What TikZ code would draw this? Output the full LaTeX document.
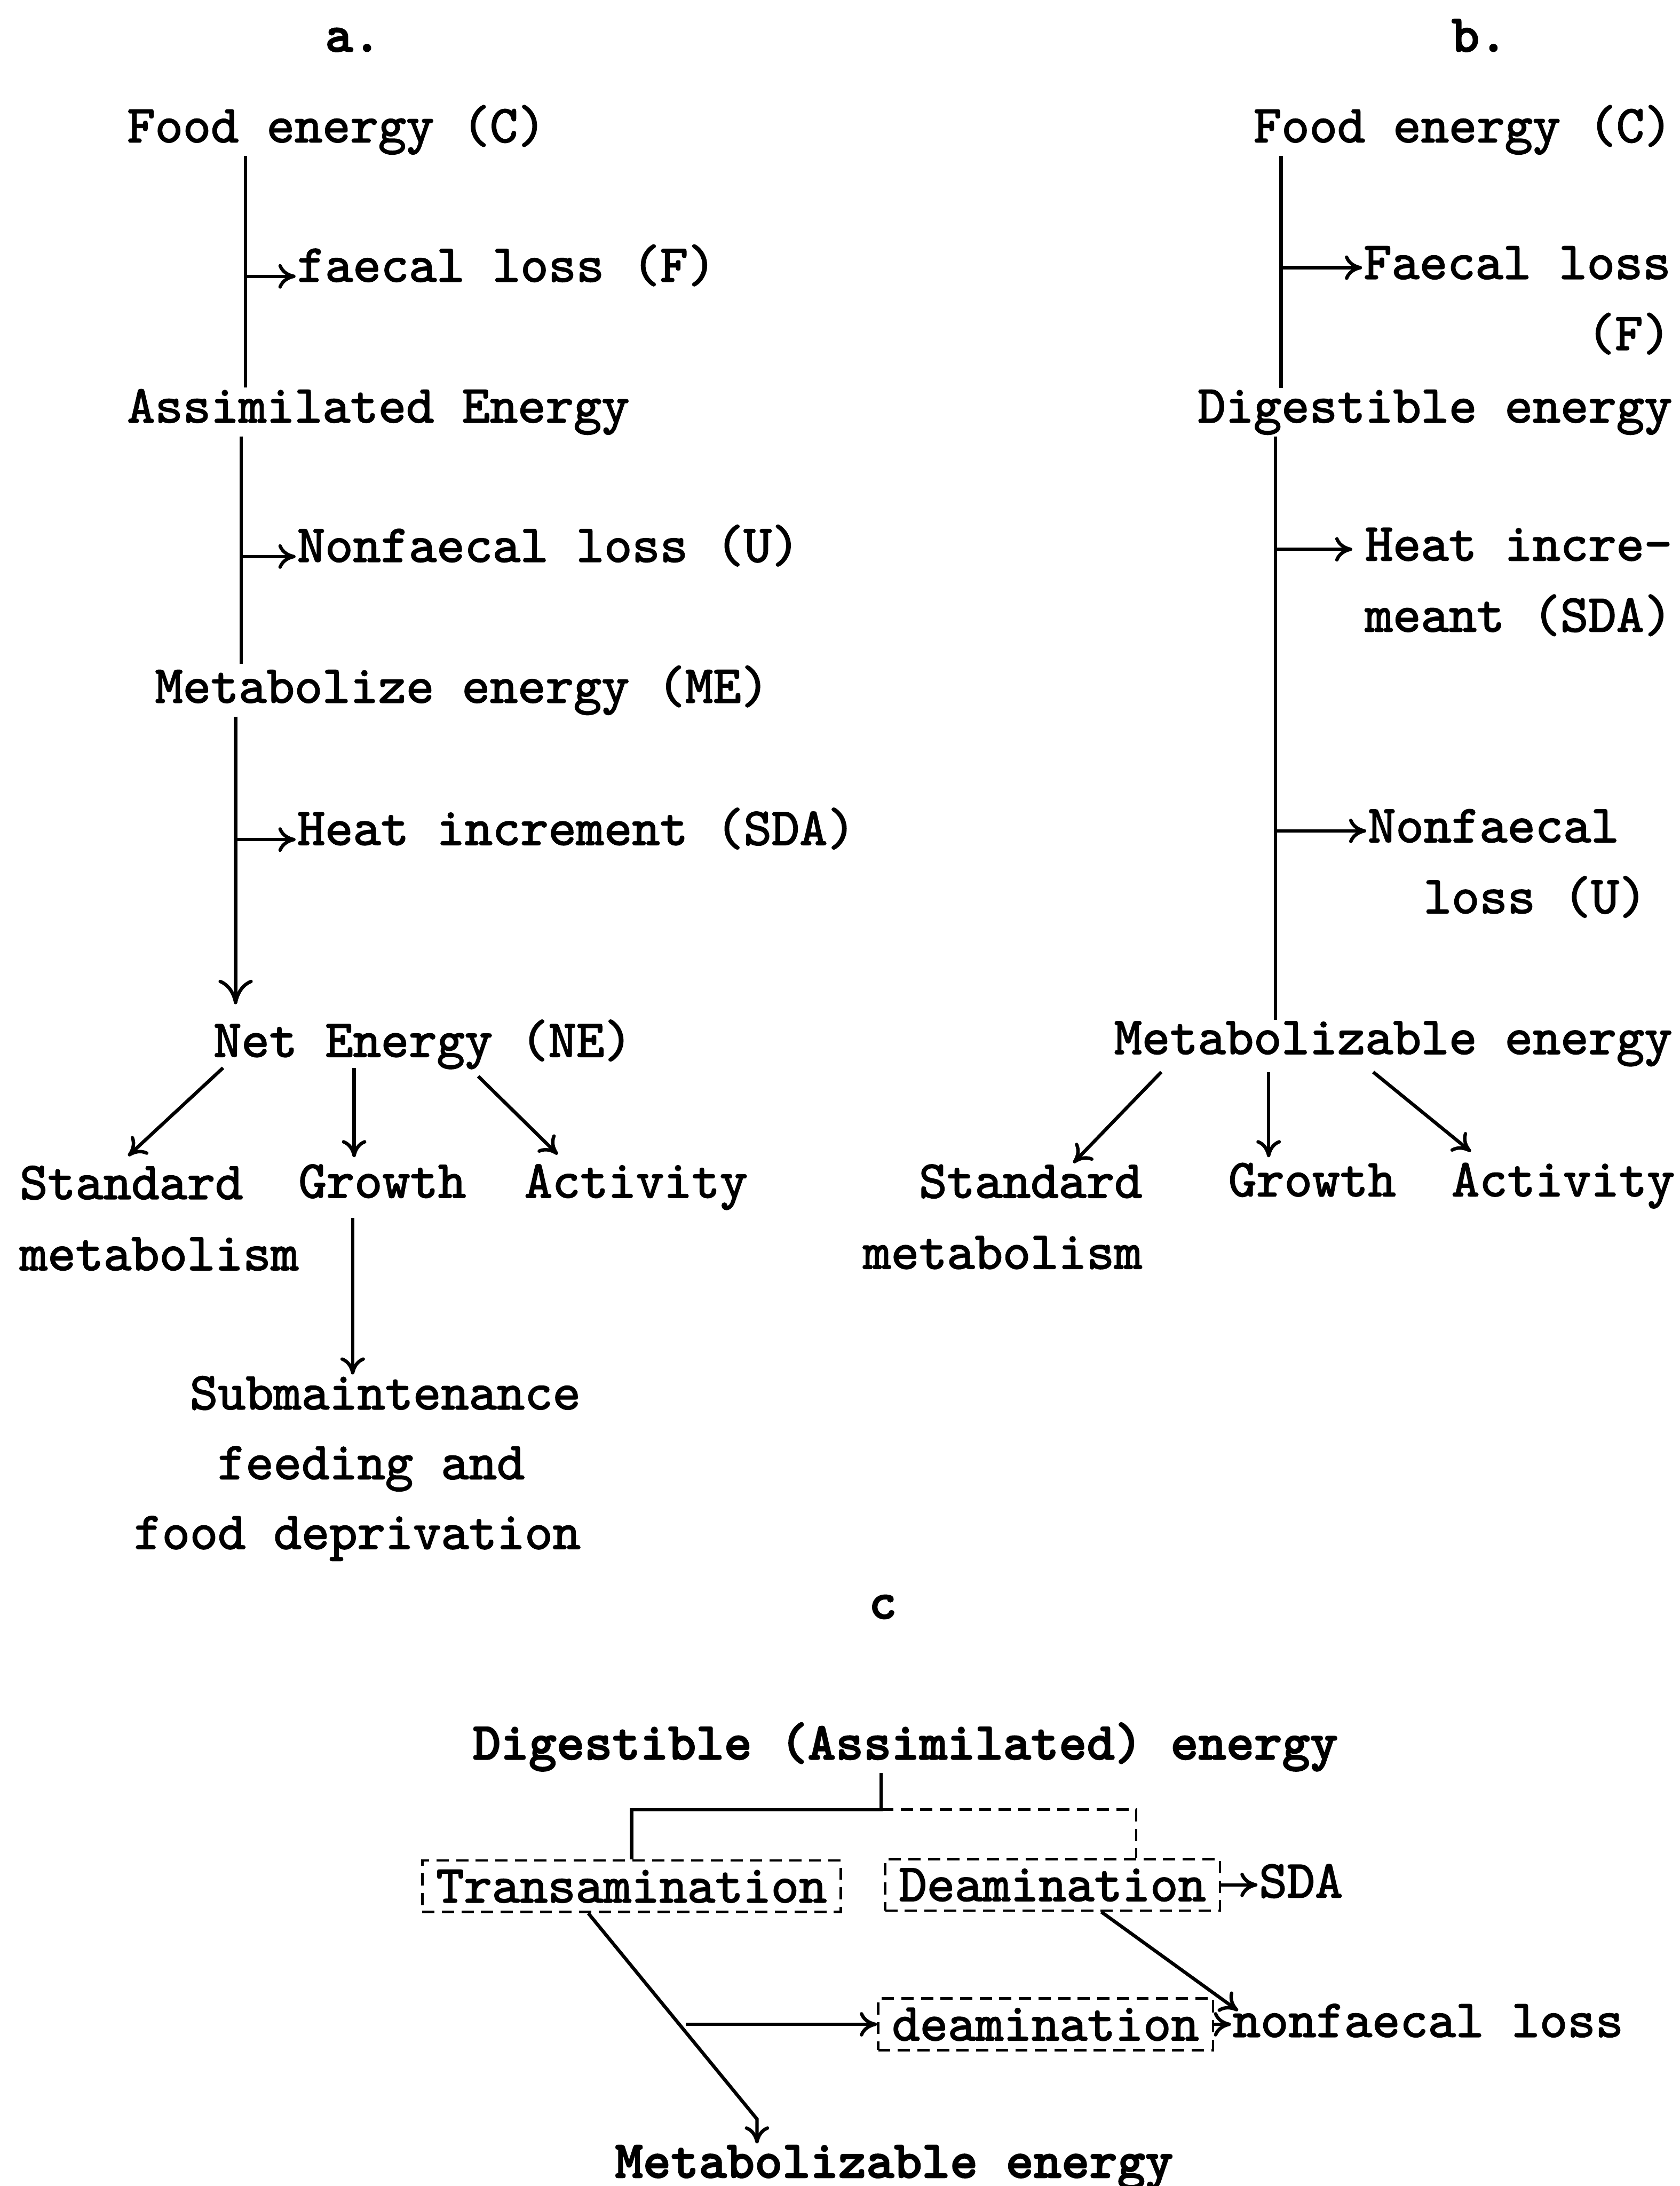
\documentclass[tikz,border=0pt]{standalone}
\usepackage{fontspec}
\newfontfamily\typewr{lmmono10-regular.otf}[FakeBold=2, BoldFont=lmmonolt10-bold.otf]
\usetikzlibrary{arrows.meta, positioning}

\begin{document}
\begin{tikzpicture}[
  x=0.02cm, y={(0cm,-0.02cm)},
  every node/.style={font={\typewr\fontsize{21.7pt}{29pt}\selectfont}, inner sep=0pt, anchor=base west},
  hd/.style={font={\typewr\bfseries\fontsize{21.7pt}{29pt}\selectfont}},
  dbox/.style={draw, dash pattern=on 5pt off 3pt, line width=1pt, anchor=center,
    inner xsep=0.2cm, minimum height=0.74cm},
  line width=1.4pt, >={To[length=7pt,width=10pt]}]

  \useasboundingbox (0,0) rectangle (1205,1568);

  % a.
  \node[hd] (labA) at (232,37) {a.};
  \node (foodA) at (90,102) {Food energy (C)};
  \node (faeA) at (212,202) {faecal loss (F)};
  \node (assA) at (90,303) {Assimilated Energy};
  \node (nonA) at (212,403) {Nonfaecal loss (U)};
  \node (metA) at (110,504) {Metabolize energy (ME)};
  \node (heatA) at (212,606) {Heat increment (SDA)};
  \node (netA) at (152,758) {Net Energy (NE)};
  \node[align=left] (stdA) at (13,911) {Standard\\metabolism};
  \node (groA) at (213,859) {Growth};
  \node (actA) at (375,859) {Activity};
  \node[align=left, font={\typewr\fontsize{21.7pt}{28.5pt}\selectfont}] (subA) at (95,1111)
    {\phantom{fo}Submaintenance\\\phantom{foo}feeding and\\food deprivation};

  \coordinate (spA1) at (176,0);
  \coordinate (spA2) at (173,0);
  \coordinate (spA3) at (169,0);
  \draw (foodA.south -| spA1) -- (assA.north -| spA1);
  \draw (assA.south -| spA2) -- (metA.north -| spA2);
  \draw[-{To[length=10pt,width=14pt]}, shorten >=0.2cm] (metA.south -| spA3) -- (netA.north -| spA3);
  \draw[->] (faeA.mid west -| spA1) -- (faeA.mid west);
  \draw[->] (nonA.mid west -| spA2) -- (nonA.mid west);
  \draw[->] (heatA.mid west -| spA3) -- (heatA.mid west);

  \draw[->] ([shift={(8,-2)}]netA.south west) -- ([shift={(79,-6)}]stdA.north west);
  \draw[->] ([shift={(102,-2)}]netA.south west) -- ([shift={(41,-4)}]groA.north west);
  \draw[->] ([shift={(191,4)}]netA.south west) -- ([shift={(25,-6)}]actA.north west);
  \draw[->] ([shift={(40,13)}]groA.south west) -- ([shift={(158,0)}]subA.north west);

  % b.
  \node[hd] (labB) at (1040,37) {b.};
  \node (foodB) at (898,102) {Food energy (C)};
  \node[align=right] (faeB) at (977,251) {Faecal loss\\(F)};
  \node (digB) at (858,303) {Digestible energy};
  \node[align=right] (heatB) at (978,453) {Heat incre-\\meant (SDA)};
  \node[align=left] (nonB) at (980,655) {Nonfaecal\\\phantom{No}loss (U)};
  \node (metB) at (798,756) {Metabolizable energy};
  \node[align=right] (stdB) at (618,910) {Standard\\metabolism};
  \node (groB) at (880,858) {Growth};
  \node (actB) at (1040,858) {Activity};

  \coordinate (spB1) at (919,0);
  \coordinate (spB2) at (915,0);
  \coordinate (faeBy) at (0,192);
  \coordinate (heatBy) at (0,394);
  \coordinate (nonBy) at (0,596);
  \draw (foodB.south -| spB1) -- (digB.north -| spB1);
  \draw (digB.south -| spB2) -- (metB.north -| spB2);
  \draw[->] (spB1 |- faeBy) -- (faeB.west |- faeBy);
  \draw[->, shorten >=0.16cm] (spB2 |- heatBy) -- (heatB.west |- heatBy);
  \draw[->] (spB2 |- nonBy) -- (nonB.west |- nonBy);

  \draw[->] ([shift={(35,3)}]metB.south west) -- ([shift={(152,0)}]stdB.north west);
  \draw[->] ([shift={(112,3)}]metB.south west) -- ([shift={(30,-3)}]groB.north west);
  \draw[->] ([shift={(187,3)}]metB.south west) -- ([shift={(15,-7)}]actB.north west);

  % c
  \node[hd] (labC) at (622,1161) {c};
  \node[hd] (digC) at (338,1262) {Digestible (Assimilated) energy};
  \node[dbox] (transC) at (453,1353) {Transamination};
  \node[dbox] (deamC) at (755,1352) {Deamination};
  \node[dbox] (deam2C) at (750,1452) {deamination};
  \node (sdaC) at (902,1361) {SDA};
  \node (nonfC) at (883,1461) {nonfaecal loss};
  \node[hd] (metC) at (440,1562) {Metabolizable energy};

  \coordinate (junC) at (632,1298);
  \coordinate (bendC) at (543,1520);
  \coordinate (tapC) at (492,1452);
  \draw (digC.south -| junC) -- (junC) -| (transC.north);
  \draw[dash pattern=on 5pt off 3pt, line width=1pt] (junC) -| ([xshift=1.2cm]deamC.north);
  \draw[->] ([xshift=-0.62cm]transC.south) -- (bendC) -- (bendC |- metC.north);
  \draw[->] (tapC) -- (deam2C.west);
  \draw[->] (deamC.east) -- (deamC.east -| sdaC.west);
  \draw[->] ([xshift=0.7cm]deamC.south) -- ([shift={(5,6)}]nonfC.north west);
  \draw[->] (deam2C.east) -- (deam2C.east -| nonfC.west);
\end{tikzpicture}
\end{document}
